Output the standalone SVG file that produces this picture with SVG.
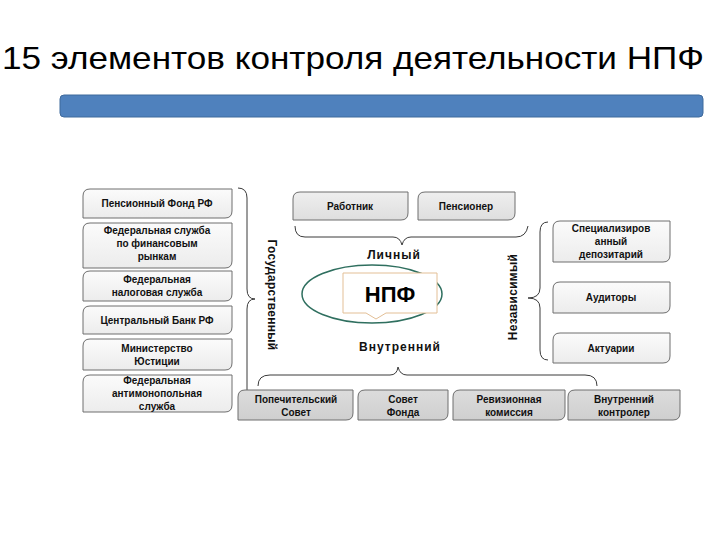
<svg xmlns="http://www.w3.org/2000/svg" width="720" height="540" viewBox="0 0 720 540">
<defs>
<linearGradient id="gLight" x1="0" y1="0" x2="0" y2="1"><stop offset="0" stop-color="#fbfbfb"/><stop offset="1" stop-color="#ececec"/></linearGradient>
<linearGradient id="gTop" x1="0" y1="0" x2="0" y2="1"><stop offset="0" stop-color="#efefef"/><stop offset="1" stop-color="#dedede"/></linearGradient>
<linearGradient id="gBot" x1="0" y1="0" x2="0" y2="1"><stop offset="0" stop-color="#dcdcdc"/><stop offset="1" stop-color="#cfcfcf"/></linearGradient>
<style>
.t{font-family:"Liberation Sans",Arial,sans-serif;fill:#000}
.bx{font-family:"Liberation Sans",Arial,sans-serif;font-size:10px;font-weight:bold;fill:#111;text-anchor:middle}
.lab{font-family:"Liberation Sans",Arial,sans-serif;font-size:12px;font-weight:bold;fill:#111;text-anchor:middle;letter-spacing:1px}
.rot{font-family:"Liberation Sans",Arial,sans-serif;font-size:12px;font-weight:bold;fill:#111;text-anchor:middle;letter-spacing:0.3px}
.bl{fill:url(#gLight);stroke:#6f6f6f;stroke-width:1}
.bt{fill:url(#gTop);stroke:#6f6f6f;stroke-width:1}
.bb{fill:url(#gBot);stroke:#6f6f6f;stroke-width:1}
.br{fill:none;stroke:#3a3a3a;stroke-width:1}
</style>
</defs>
<rect width="720" height="540" fill="#fff"/>
<text class="t" x="2" y="69" font-size="32" textLength="702" lengthAdjust="spacingAndGlyphs">15 элементов контроля деятельности НПФ</text>
<rect x="60" y="95" width="643" height="22" rx="4" fill="#4f81bd" stroke="#3f6a9c" stroke-width="1"/>

<g id="connectors">
<path class="br" d="M238,188 Q247,188 247,198 V289 Q247,299 255,299 Q247,299 247,309 V400 Q247,410 238,410"/>
<path class="br" d="M548,222 Q540,222 540,232 V288 Q540,298 528,298 Q540,298 540,308 V350 Q540,360 548,360"/>
<path class="br" d="M295,226 Q295,237 305,237 H393 Q400,237 402,245 Q404,237 411,237 H516 Q526,237 528,226"/>
<path class="br" d="M258,386 Q258,375 270,375 H390 Q397,375 398,367 Q400,375 407,375 H585 Q597,375 597,386"/>
</g>

<g id="n-pfr"><path class="bl" d="M90,189 H232 V211 Q232,218 225,218 H83 V196 Q83,189 90,189 Z"/><text class="bx" x="157" y="207">Пенсионный Фонд РФ</text></g>
<g id="n-fsfr"><path class="bl" d="M90,223 H232 V261 Q232,268 225,268 H83 V230 Q83,223 90,223 Z"/><text class="bx" x="157" y="234">Федеральная служба</text><text class="bx" x="157" y="247">по финансовым</text><text class="bx" x="157" y="260">рынкам</text></g>
<g id="n-fns"><path class="bl" d="M90,271 H232 V294 Q232,301 225,301 H83 V278 Q83,271 90,271 Z"/><text class="bx" x="157" y="283">Федеральная</text><text class="bx" x="157" y="296">налоговая служба</text></g>
<g id="n-cb"><path class="bl" d="M90,306 H232 V327 Q232,334 225,334 H83 V313 Q83,306 90,306 Z"/><text class="bx" x="157" y="324">Центральный Банк РФ</text></g>
<g id="n-minjust"><path class="bl" d="M90,339 H232 V363 Q232,370 225,370 H83 V346 Q83,339 90,339 Z"/><text class="bx" x="157" y="352">Министерство</text><text class="bx" x="157" y="365">Юстиции</text></g>
<g id="n-fas"><path class="bl" d="M90,375 H232 V405 Q232,412 225,412 H83 V382 Q83,375 90,375 Z"/><text class="bx" x="157" y="384">Федеральная</text><text class="bx" x="157" y="397">антимонопольная</text><text class="bx" x="157" y="410">служба</text></g>

<g id="n-rab"><path class="bt" d="M300,192 H408 V213 Q408,220 401,220 H293 V199 Q293,192 300,192 Z"/><text class="bx" x="350" y="210">Работник</text></g>
<g id="n-pens"><path class="bt" d="M425,192 H515 V213 Q515,220 508,220 H418 V199 Q418,192 425,192 Z"/><text class="bx" x="466" y="210">Пенсионер</text></g>

<g id="n-sdep"><path class="bl" d="M560,221 H670 V255 Q670,262 663,262 H553 V228 Q553,221 560,221 Z"/><text class="bx" x="611" y="232">Специализиров</text><text class="bx" x="611" y="245">анный</text><text class="bx" x="611" y="258">депозитарий</text></g>
<g id="n-aud"><path class="bl" d="M560,282 H670 V306 Q670,313 663,313 H553 V289 Q553,282 560,282 Z"/><text class="bx" x="611" y="301">Аудиторы</text></g>
<g id="n-akt"><path class="bl" d="M560,333 H670 V356 Q670,363 663,363 H553 V340 Q553,333 560,333 Z"/><text class="bx" x="611" y="352">Актуарии</text></g>

<g id="n-pop"><path class="bb" d="M245,390 H353 V413 Q353,420 346,420 H238 V397 Q238,390 245,390 Z"/><text class="bx" x="296" y="403">Попечительский</text><text class="bx" x="296" y="416">Совет</text></g>
<g id="n-sov"><path class="bb" d="M365,390 H448 V413 Q448,420 441,420 H358 V397 Q358,390 365,390 Z"/><text class="bx" x="403" y="403">Совет</text><text class="bx" x="403" y="416">Фонда</text></g>
<g id="n-rev"><path class="bb" d="M460,390 H565 V413 Q565,420 558,420 H453 V397 Q453,390 460,390 Z"/><text class="bx" x="509" y="403">Ревизионная</text><text class="bx" x="509" y="416">комиссия</text></g>
<g id="n-vnk"><path class="bb" d="M575,390 H680 V413 Q680,420 673,420 H568 V397 Q568,390 575,390 Z"/><text class="bx" x="624" y="403">Внутренний</text><text class="bx" x="624" y="416">контролер</text></g>

<g id="n-npf">
<ellipse cx="372" cy="294" rx="70" ry="29" fill="#fff" stroke="#2f6f5f" stroke-width="1.5"/>
<path d="M343,273 H437 V313 H386 L376,319 L366,313 H343 Z" fill="#fff" stroke="#e3bf96" stroke-width="1"/>
<text class="t" x="390" y="302" font-size="22" font-weight="bold" text-anchor="middle">НПФ</text>
</g>

<text class="lab" x="394" y="259">Личный</text>
<text class="lab" x="400" y="351">Внутренний</text>
<text class="rot" transform="translate(268,295) rotate(90)">Государственный</text>
<text class="rot" transform="translate(517,297) rotate(-90)">Независимый</text>
</svg>
